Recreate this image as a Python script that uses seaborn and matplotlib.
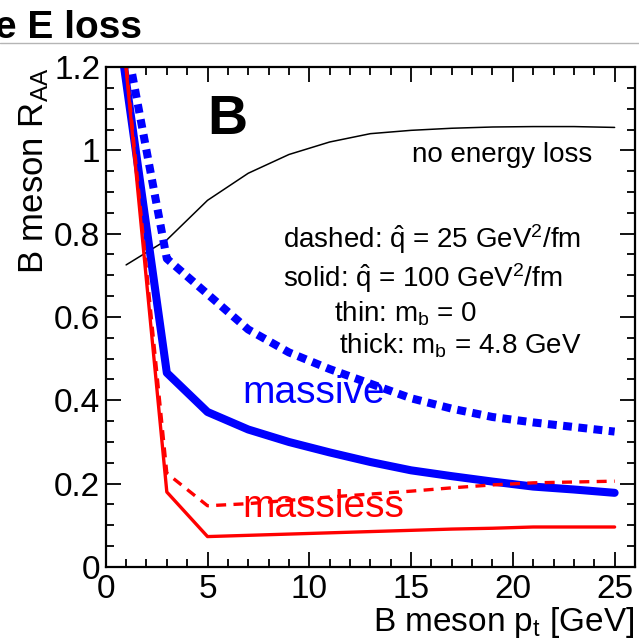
import matplotlib
matplotlib.use("Agg")
import matplotlib.pyplot as plt
import matplotlib.lines as mlines
from matplotlib.ticker import MultipleLocator, FixedFormatter, FixedLocator
import seaborn as sns

# %%
pt = [0.5, 3, 5, 7, 9, 11, 13, 15, 17, 19, 21, 23, 25]
pt_noloss = [1, 3, 5, 7, 9, 11, 13, 15, 17, 19, 21, 23, 25]

raa_noloss = [0.725, 0.785, 0.88, 0.945, 0.99, 1.02, 1.04, 1.048, 1.053,
              1.056, 1.057, 1.057, 1.055]
raa_massive_q100 = [1.34, 0.466, 0.372, 0.33, 0.30, 0.275, 0.252, 0.232,
                    0.218, 0.205, 0.193, 0.186, 0.178]
raa_massive_q25 = [1.39, 0.74, 0.655, 0.57, 0.515, 0.475, 0.44, 0.405, 0.38,
                   0.36, 0.347, 0.336, 0.325]
raa_massless_q100 = [1.45, 0.18, 0.073, 0.076, 0.079, 0.082, 0.085, 0.088,
                     0.091, 0.093, 0.096, 0.096, 0.096]
raa_massless_q25 = [1.45, 0.225, 0.147, 0.152, 0.16, 0.168, 0.175, 0.182,
                    0.19, 0.197, 0.202, 0.204, 0.206]

x_ticks = [0, 5, 10, 15, 20, 25]
x_tick_labels = ['0', '5', '10', '15', '20', '25']
y_ticks = [0, 0.2, 0.4, 0.6, 0.8, 1.0, 1.2]
y_tick_labels = ['0', '0.2', '0.4', '0.6', '0.8', '1', '1.2']

# %%
sns.set_style("ticks")
plt.rcParams['font.family'] = ['Liberation Sans', 'DejaVu Sans']
plt.rcParams['mathtext.fontset'] = 'custom'
plt.rcParams['mathtext.rm'] = 'Liberation Sans'
plt.rcParams['mathtext.it'] = 'Liberation Sans:italic'
plt.rcParams['mathtext.bf'] = 'Liberation Sans:bold'
plt.rcParams['text.color'] = 'black'
plt.rcParams['axes.labelcolor'] = 'black'
plt.rcParams['xtick.color'] = 'black'
plt.rcParams['ytick.color'] = 'black'

fig = plt.figure(figsize=(6.39, 6.43), dpi=100)
ax = fig.add_axes([0.1655, 0.1182, 0.8282, 0.7776])

blue = '#0000ff'
red = '#ff0000'

sns.lineplot(x=pt_noloss, y=raa_noloss, ax=ax, color='black', lw=1.1)
sns.lineplot(x=pt, y=raa_massive_q100, ax=ax, color=blue, lw=5.8)
sns.lineplot(x=pt, y=raa_massive_q25, ax=ax, color=blue, lw=5.8)
sns.lineplot(x=pt, y=raa_massless_q100, ax=ax, color=red, lw=2.4)
sns.lineplot(x=pt, y=raa_massless_q25, ax=ax, color=red, lw=2.4)

lines = ax.get_lines()
lines[2].set_dashes((1.1, 0.8))
lines[2].set_dash_capstyle('butt')
lines[4].set_dashes((3.0, 2.2))
lines[4].set_dash_capstyle('butt')

ax.set_xlim(0, 26)
ax.set_ylim(0, 1.2)

ax.xaxis.set_major_locator(FixedLocator(x_ticks))
ax.xaxis.set_major_formatter(FixedFormatter(x_tick_labels))
ax.xaxis.set_minor_locator(MultipleLocator(1))
ax.yaxis.set_major_locator(FixedLocator(y_ticks))
ax.yaxis.set_major_formatter(FixedFormatter(y_tick_labels))
ax.yaxis.set_minor_locator(MultipleLocator(0.05))

ax.tick_params(which='both', direction='in', top=True, right=True,
               width=1.3, color='black', labelsize=24, labelcolor='black')
ax.tick_params(which='major', length=11)
ax.tick_params(which='minor', length=6)
ax.tick_params(axis='x', pad=5)
ax.tick_params(axis='y', pad=4)
for s in ax.spines.values():
    s.set_linewidth(1.6)
    s.set_color('black')
    s.set_visible(True)

ax.set_xlabel(r'B meson p$_{\mathrm{t}}$ [GeV]', fontsize=24, loc='right',
              labelpad=0)
ax.set_ylabel(r'B meson R$_{\mathrm{AA}}$', fontsize=25, loc='top',
              labelpad=2)

ax.text(5.0, 1.04, 'B', fontsize=40, fontweight='bold')
ax.text(23.9, 0.972, 'no energy loss', fontsize=20, ha='right')
ax.text(8.7, 0.766, r'dashed: $\hat{\mathrm{q}}$ = 25 GeV$^2$/fm', fontsize=20)
ax.text(8.7, 0.672, r'solid: $\hat{\mathrm{q}}$ = 100 GeV$^2$/fm', fontsize=20)
ax.text(11.2, 0.588, r'thin: m$_{\mathrm{b}}$ = 0', fontsize=20)
ax.text(11.45, 0.513, r'thick: m$_{\mathrm{b}}$ = 4.8 GeV', fontsize=20)
ax.text(6.7, 0.393, 'massive', fontsize=28, color=blue)
ax.text(6.7, 0.12, 'massless', fontsize=28, color=red)

fig.text(-0.008, 1 - 38 / 643, 'e E loss', fontsize=28, fontweight='bold')
fig.add_artist(mlines.Line2D([0, 1], [1 - 43 / 643] * 2, color='#b5b5b5',
                             lw=1.0, transform=fig.transFigure))

fig.savefig('out.png', dpi=100)
